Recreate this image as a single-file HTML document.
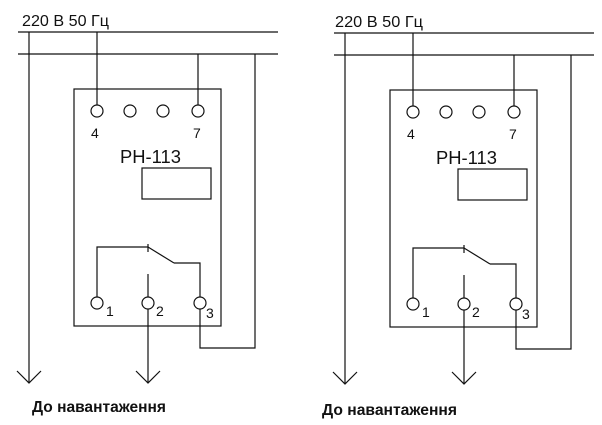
<!DOCTYPE html>
<html><head><meta charset="utf-8"><style>
html,body{margin:0;padding:0;background:#fff;width:602px;height:425px;overflow:hidden}
text{font-family:"Liberation Sans",sans-serif;fill:#111}
</style></head><body>
<svg width="602" height="425" viewBox="0 0 602 425" xmlns="http://www.w3.org/2000/svg">
<defs>
<g id="d" stroke="#111" stroke-width="1.2" fill="none">
<line x1="18" y1="32" x2="278" y2="32"/>
<line x1="18" y1="54" x2="278" y2="54"/>
<line x1="29" y1="32" x2="29" y2="383"/>
<polyline points="17,371 29,383 41,371"/>
<line x1="97" y1="32" x2="97" y2="105"/>
<line x1="198" y1="54" x2="198" y2="105"/>
<polyline points="255,54 255,348 200,348 200,309"/>
<rect x="74" y="89" width="147" height="237"/>
<circle cx="97" cy="111" r="6"/><circle cx="130" cy="111" r="6"/><circle cx="163" cy="111" r="6"/><circle cx="198" cy="111" r="6"/>
<rect x="142" y="168" width="69" height="31"/>
<polyline points="97,297 97,247 148,247"/>
<line x1="148" y1="247" x2="174" y2="263"/>
<line x1="148" y1="244" x2="148" y2="252"/>
<polyline points="174,263 200,263 200,297"/>
<line x1="148" y1="274" x2="148" y2="297"/>
<line x1="148" y1="309" x2="148" y2="383"/>
<polyline points="136,371 148,383 160,371"/>
<circle cx="97" cy="303" r="6"/><circle cx="148" cy="303" r="6"/><circle cx="200" cy="303" r="6"/>
</g>
</defs>
<use href="#d"/>
<use href="#d" transform="translate(316,1)"/>
<g font-size="14">
<text x="91" y="138">4</text><text x="193" y="138">7</text>
<text x="407" y="139">4</text><text x="509" y="139">7</text>
<text x="106" y="316">1</text><text x="156" y="316">2</text><text x="206" y="318">3</text>
<text x="422" y="317">1</text><text x="472" y="317">2</text><text x="522" y="319">3</text>
</g>
<text x="22" y="26" font-size="16" textLength="87" lengthAdjust="spacingAndGlyphs">220 В 50 Гц</text>
<text x="335" y="27" font-size="16" textLength="88" lengthAdjust="spacingAndGlyphs">220 В 50 Гц</text>
<text x="120" y="163" font-size="18" textLength="61" lengthAdjust="spacingAndGlyphs">РН-113</text>
<text x="436" y="164" font-size="18" textLength="61" lengthAdjust="spacingAndGlyphs">РН-113</text>
<text x="32" y="412" font-size="16" font-weight="bold" textLength="134" lengthAdjust="spacingAndGlyphs">До навантаження</text>
<text x="322" y="415" font-size="16" font-weight="bold" textLength="135" lengthAdjust="spacingAndGlyphs">До навантаження</text>
</svg>
</body></html>
